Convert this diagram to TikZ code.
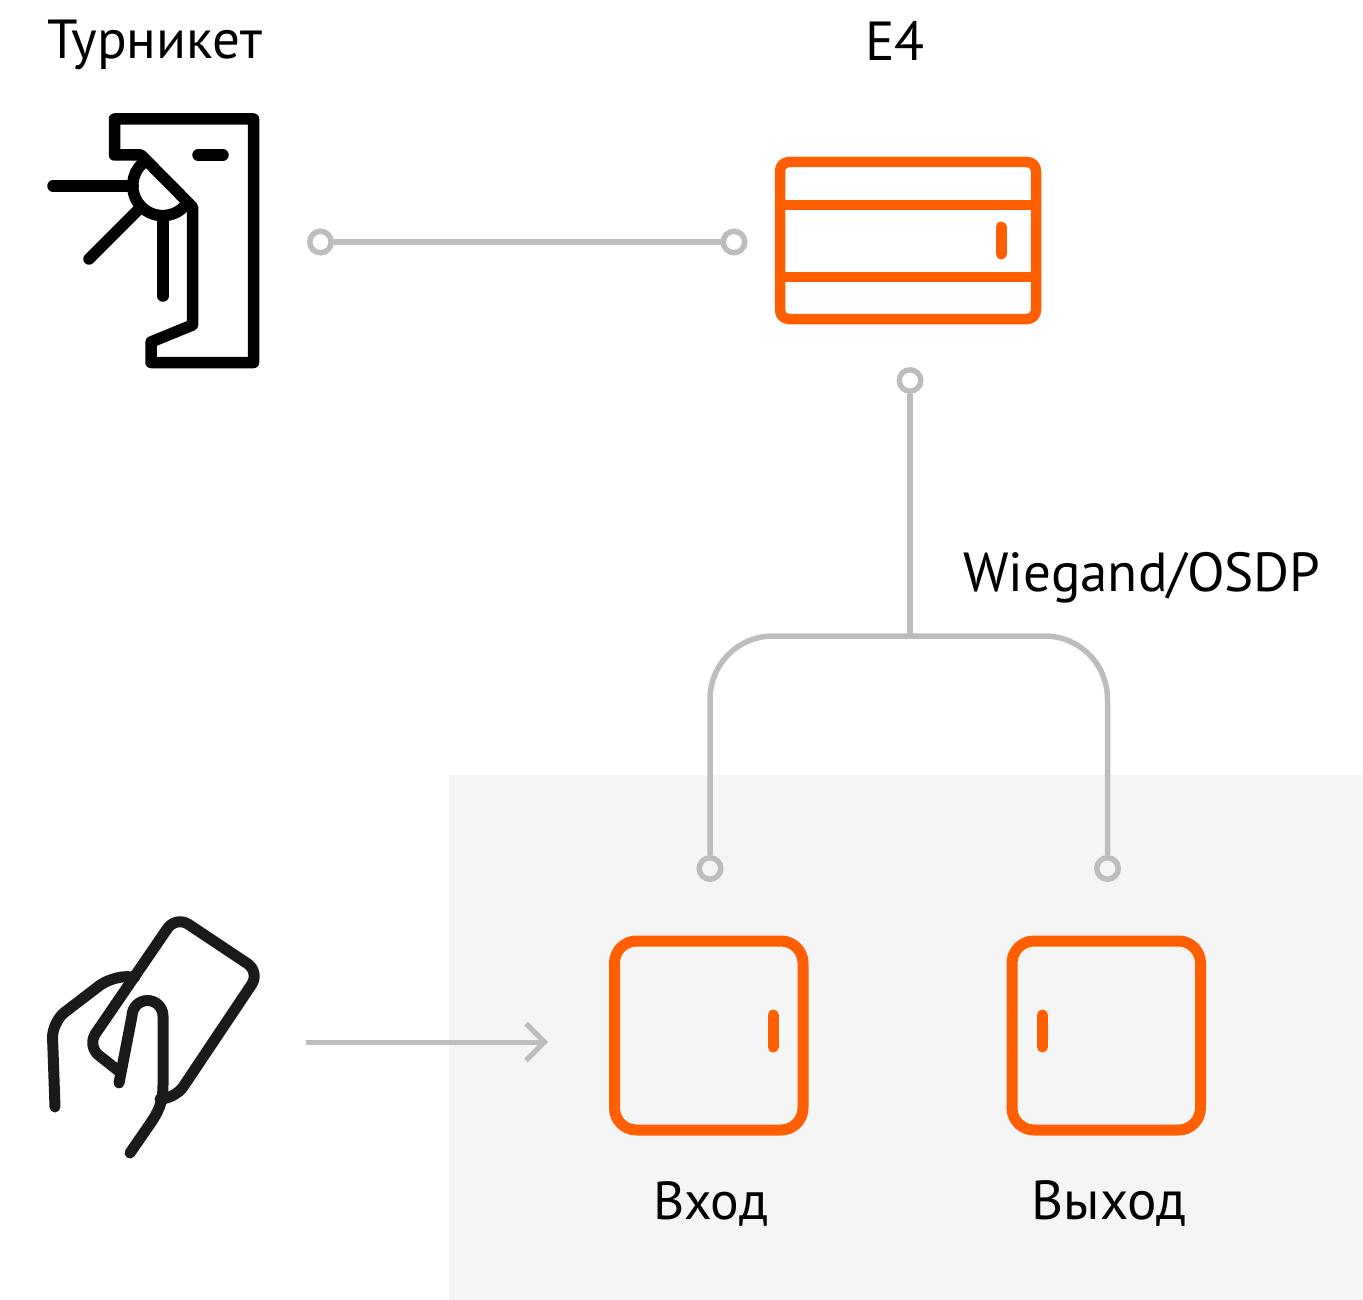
\documentclass[tikz,border=0pt]{standalone}
\usepackage{fontspec}
\setmainfont{PT Sans}
\usetikzlibrary{arrows.meta}
\definecolor{orng}{HTML}{FF5F00}
\definecolor{wire}{HTML}{BDBDBD}
\definecolor{panel}{HTML}{F5F5F5}
\definecolor{ink}{HTML}{1A1A1A}
\tikzset{
  x=1pt,y=-1pt,
  label text/.style={font=\fontsize{55}{60}\selectfont,inner sep=0pt,text=black},
  wireline/.style={draw=wire,line width=5.5pt},
  pin/.style={circle,draw=wire,line width=5.5pt,minimum size=21.5pt,inner sep=0pt},
  orange line/.style={draw=orng,line width=10.5pt,line cap=round,line join=round},
  orange tick/.style={draw=orng,line width=11pt,line cap=round},
  turn line/.style={draw=black,line width=11.5pt,line cap=round,line join=round},
  hand line/.style={draw=ink,line width=11pt,line cap=round,line join=round},
}
\begin{document}
\begin{tikzpicture}
\useasboundingbox (0,0) rectangle (1363,1300);
\fill[panel] (449,775) rectangle (1363,1300);
% labels
\node[label text] (tTurn) at (155,45) {Турникет};
\node[label text] (tE) at (895,41) {E4};
\node[label text] (tW) at (1142,578) {Wiegand/OSDP};
\node[label text,font=\fontsize{53.5}{60}\selectfont] (tIn) at (710.5,1204) {Вход};
\node[label text] (tOut) at (1109,1204) {Выход};
% turnstile
\draw[turn line] (114.5,119) -- (253.5,119) -- (253.5,362.5) -- (151,362.5) -- (151,342) -- (192.5,325) -- (192.5,207) -- (141,155) -- (114.5,155) -- cycle;
\draw[turn line] (198,155) -- (223,155);
\draw[turn line] (143,163) arc[start angle=131,end angle=316,radius=30pt];
\draw[turn line] (53,186) -- (133,186);
\draw[turn line] (89,259) -- (141,207);
\draw[turn line] (163,216) -- (163,296);
% controller
\draw[orange line,rounded corners=9pt] (780,162) rectangle (1036,319);
\draw[orange line] (780,205) -- (1036,205);
\draw[orange line] (780,277) -- (1036,277);
\draw[orange tick] (1001,227) -- (1001,254);
% readers
\draw[orange line,line width=11pt,rounded corners=22pt] (614.5,941) rectangle (803,1130);
\draw[orange tick] (773,1015) -- (773,1047);
\draw[orange line,line width=11pt,rounded corners=22pt] (1012,941) rectangle (1200.5,1130);
\draw[orange tick] (1042.5,1015) -- (1042.5,1047);
% hand
\draw[hand line,rounded corners=15pt] (120,1072) -- (87,1046) -- (176,916) -- (260,972) -- (175,1099) -- (163,1099);
\draw[hand line,rounded corners=16pt] (55,1107) -- (52,1022) -- (112,976) -- (135,977);
\draw[hand line] (119,1083) -- (132,1016) arc[start angle=180,end angle=0,radius=15.5pt] -- (163,1085) .. controls (163,1103) and (158,1112.4) .. (150,1124) -- (130,1153);
% connectors
\node[pin] (a) at (320.5,242) {};
\node[pin] (b) at (734,242) {};
\node[pin] (c) at (910,380.5) {};
\node[pin] (d) at (710,868.5) {};
\node[pin] (e) at (1107.5,868.5) {};
\coordinate (hub) at (910,636);
\coordinate (ls) at (306,1042);
\coordinate (le) at (544.5,1042);
\coordinate (barbT) at (526,1023.5);
\coordinate (barbB) at (526,1060.5);
\draw[wireline] (a) -- (b);
\draw[wireline] (c) -- (hub);
\draw[wireline,rounded corners=63pt] (d) -- (d |- hub) -- (e |- hub) -- (e);
\draw[wireline,line width=5pt] (ls) -- (le);
\draw[wireline,line width=5pt] (barbT) -- (le) -- (barbB);
\end{tikzpicture}
\end{document}
